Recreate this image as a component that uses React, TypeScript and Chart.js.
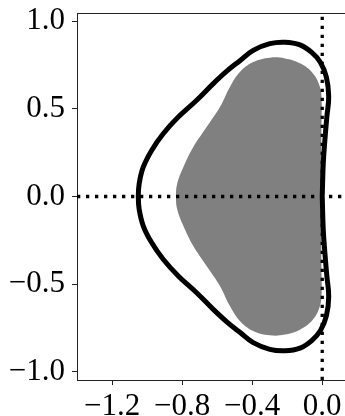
import React, { useEffect, useRef } from 'react';
import { Chart, registerables } from 'chart.js';

Chart.register(...registerables);

// Outer boundary (black curve), counter-clockwise starting at the right side, y = 0
const outerX = [
  0.000, 0.006, 0.015, 0.026, 0.037, 0.024, -0.010, -0.060, -0.127, -0.213,
  -0.299, -0.394, -0.470, -0.545, -0.622, -0.717, -0.822, -0.908, -0.974, -1.022,
  -1.045, -1.050,
  -1.045, -1.022, -0.974, -0.908, -0.822, -0.717, -0.622, -0.545, -0.470, -0.394,
  -0.299, -0.213, -0.127, -0.060, -0.010, 0.024, 0.037, 0.026, 0.015, 0.006, 0.000,
];
const outerY = [
  0.000, 0.190, 0.320, 0.450, 0.570, 0.680, 0.765, 0.822, 0.865, 0.880,
  0.872, 0.834, 0.775, 0.715, 0.644, 0.549, 0.453, 0.358, 0.263, 0.167,
  0.073, 0.000,
  -0.073, -0.167, -0.263, -0.358, -0.453, -0.549, -0.644, -0.715, -0.775, -0.834,
  -0.872, -0.880, -0.865, -0.822, -0.765, -0.680, -0.570, -0.450, -0.320, -0.190, 0.000,
];

// Inner region (gray fill)
const innerX = [
  -0.005, -0.005, -0.004, -0.003, -0.013, -0.055, -0.127, -0.213, -0.299, -0.394,
  -0.470, -0.527, -0.584, -0.660, -0.736, -0.793, -0.828, -0.835,
  -0.828, -0.793, -0.736, -0.660, -0.584, -0.527, -0.470, -0.394, -0.299, -0.213,
  -0.127, -0.055, -0.013, -0.003, -0.004, -0.005, -0.005,
];
const innerY = [
  0.000, 0.300, 0.450, 0.540, 0.625, 0.705, 0.760, 0.788, 0.792, 0.767,
  0.710, 0.625, 0.510, 0.396, 0.282, 0.167, 0.073, 0.000,
  -0.073, -0.167, -0.282, -0.396, -0.510, -0.625, -0.710, -0.767, -0.792, -0.788,
  -0.760, -0.705, -0.625, -0.540, -0.450, -0.300, 0.000,
];

const xTicks = [-1.2, -0.8, -0.4, 0.0];
const yTicks = [-1.0, -0.5, 0.0, 0.5, 1.0];
const xMin = -1.4;
const xMax = 0.13;
const yMin = -1.047;
const yMax = 1.047;

const fmt = (v: number) => {
  const s = Math.abs(v).toFixed(1);
  return v < -1e-9 ? '\u2212' + s : s;
};

const FONT = { family: '"Liberation Serif", "Times New Roman", serif', size: 31 };
const SPINE = '#222';

const topSpine = {
  id: 'topSpine',
  afterDraw(chart: any) {
    const { ctx, chartArea } = chart;
    ctx.save();
    ctx.strokeStyle = SPINE;
    ctx.lineWidth = 1;
    ctx.beginPath();
    ctx.moveTo(chartArea.left, chartArea.top + 0.5);
    ctx.lineTo(chartArea.right, chartArea.top + 0.5);
    ctx.stroke();
    ctx.restore();
  },
};

export default function App() {
  const ref = useRef<HTMLCanvasElement | null>(null);

  useEffect(() => {
    if (!ref.current) return;
    const outer = outerX.map((x, i) => ({ x, y: outerY[i] }));
    const inner = innerX.map((x, i) => ({ x, y: innerY[i] }));
    const hLine = [{ x: xMin, y: 0 }, { x: xMax, y: 0 }];
    const vLine = [{ x: 0, y: yMin }, { x: 0, y: yMax }];

    const dotted = {
      showLine: true,
      borderColor: '#000',
      borderWidth: 3.3,
      borderDash: [3.3, 5.7],
      borderCapStyle: 'butt',
      pointRadius: 0,
      fill: false,
      order: 0,
    };

    const chart = new Chart(ref.current, {
      type: 'scatter',
      data: {
        datasets: [
          { ...dotted, data: hLine } as any,
          { ...dotted, data: vLine } as any,
          {
            data: outer,
            showLine: true,
            borderColor: '#000',
            borderWidth: 5,
            pointRadius: 0,
            tension: 0.4,
            fill: false,
            order: 1,
          } as any,
          {
            data: inner,
            showLine: true,
            borderColor: 'rgba(0,0,0,0)',
            borderWidth: 0,
            backgroundColor: '#808080',
            pointRadius: 0,
            tension: 0.4,
            fill: 'shape',
            order: 2,
          } as any,
        ],
      },
      options: {
        responsive: false,
        animation: false,
        devicePixelRatio: 1,
        layout: { padding: { top: 13, left: 0, right: 0, bottom: 0 } },
        plugins: {
          legend: { display: false },
          tooltip: { enabled: false },
        },
        scales: {
          x: {
            type: 'linear',
            min: xMin,
            max: xMax,
            afterBuildTicks: (s: any) => {
              s.ticks = xTicks.map((v) => ({ value: v }));
            },
            afterFit: (s: any) => {
              s.height = 36;
              s.paddingLeft = 0;
              s.paddingRight = 0;
            },
            ticks: {
              autoSkip: false,
              maxRotation: 0,
              color: '#000',
              font: FONT,
              padding: 3,
              callback: (v: any) => fmt(Number(v)),
            },
            grid: {
              display: true,
              drawOnChartArea: false,
              drawTicks: true,
              tickLength: 5,
              tickWidth: 1,
              color: SPINE,
            },
            border: { display: true, color: SPINE, width: 1 },
          },
          y: {
            type: 'linear',
            min: yMin,
            max: yMax,
            afterBuildTicks: (s: any) => {
              s.ticks = yTicks.map((v) => ({ value: v }));
            },
            afterFit: (s: any) => {
              s.width = 77;
              s.paddingTop = 0;
              s.paddingBottom = 0;
            },
            ticks: {
              autoSkip: false,
              color: '#000',
              font: FONT,
              padding: 7,
              callback: (v: any) => fmt(Number(v)),
            },
            grid: {
              display: true,
              drawOnChartArea: false,
              drawTicks: true,
              tickLength: 5,
              tickWidth: 1,
              color: SPINE,
            },
            border: { display: true, color: SPINE, width: 1 },
          },
        },
      } as any,
      plugins: [topSpine],
    });
    return () => chart.destroy();
  }, []);

  return (
    <div style={{ position: 'absolute', left: 0, top: 0, width: 345, height: 416, overflow: 'hidden', background: '#fff' }}>
      <canvas ref={ref} width={345} height={416} style={{ display: 'block', width: 345, height: 416 }} />
    </div>
  );
}
